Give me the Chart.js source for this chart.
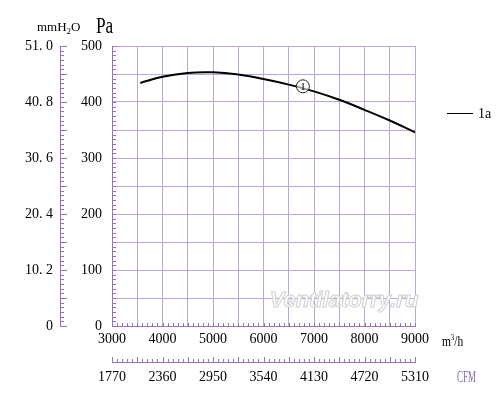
<!DOCTYPE html>
<html><head><meta charset="utf-8">
<script src="https://cdn.jsdelivr.net/npm/chart.js@4.4.1/dist/chart.umd.min.js"></script>
<style>html,body{margin:0;padding:0;background:#fff}canvas{display:block}</style>
</head><body>
<canvas id="c" width="500" height="400"></canvas>
<script>
// ---- data ----
const flowM3h    = [3560, 4000, 4500, 5000, 5500, 6000, 6500, 7000, 7500, 8000, 8500, 9000];
const pressurePa = [434,  445,  452,  453,  449,  441,  431,  419,  404,  386,  367,  346];
const mmTickValues = [0, 10.2, 20.4, 30.6, 40.8, 51.0];
const mmTickLabels = ['0', '10. 2', '20. 4', '30. 6', '40. 8', '51. 0'];
const cfmTickValues = [1770, 2360, 2950, 3540, 4130, 4720, 5310];
const curveLabel = '1a';
const markerFlow = 6780, markerPa = 428, markerText = '1';
const watermarkText = 'Ventilatorry.ru';

const GRID = '#bba6d4';
const AXIS = '#9273b6';
const SERIF = '"Liberation Serif", "DejaVu Serif", serif';

function line(ctx, x1, y1, x2, y2) { ctx.beginPath(); ctx.moveTo(x1, y1); ctx.lineTo(x2, y2); ctx.stroke(); }

const decor = {
  id: 'decor',
  beforeDatasetsDraw(chart) {
    const ctx = chart.ctx;
    ctx.save();
    ctx.font = 'italic bold 22px "Liberation Sans", Arial, sans-serif';
    ctx.textAlign = 'center'; ctx.textBaseline = 'alphabetic';
    ctx.lineWidth = 1; ctx.strokeStyle = '#cfcfcf'; ctx.fillStyle = '#ffffff';
    ctx.fillText(watermarkText, 344, 307);
    ctx.strokeText(watermarkText, 344, 307);
    ctx.restore();
  },
  afterDraw(chart) {
    const ctx = chart.ctx, ca = chart.chartArea;
    const ya = chart.scales.y, y2 = chart.scales.y2, xa = chart.scales.x, x2 = chart.scales.x2;
    ctx.save();
    ctx.strokeStyle = AXIS; ctx.lineWidth = 1;
    // Pa axis inward minor ticks
    for (let i = 0; i <= 60; i++) {
      const p = Math.round(ya.getPixelForValue(i * 500 / 60)) + 0.5;
      line(ctx, ca.left, p, ca.left + 4, p);
    }
    // mmH2O axis ticks
    for (let i = 0; i <= 60; i++) {
      const p = Math.round(y2.getPixelForValue(i * 0.85)) + 0.5;
      const len = (i % 6 === 0) ? 7 : 4;
      line(ctx, y2.right, p, y2.right + len, p);
    }
    // m3/h axis inward minor ticks
    for (let v = 3000; v <= 9000; v += 100) {
      const p = Math.round(xa.getPixelForValue(v)) + 0.5;
      line(ctx, p, ca.bottom, p, ca.bottom - 3);
    }
    // CFM axis ticks
    for (let i = 0; i <= 60; i++) {
      const p = Math.round(x2.getPixelForValue(1770 + i * 59)) + 0.5;
      const len = (i % 5 === 0) ? 5 : 3;
      line(ctx, p, x2.top, p, x2.top - len);
    }
    // header: mmH2O  Pa
    ctx.fillStyle = '#000'; ctx.textAlign = 'left'; ctx.textBaseline = 'alphabetic';
    ctx.font = '13px ' + SERIF;
    let x = 37;
    ctx.fillText('mmH', x, 31); x += ctx.measureText('mmH').width;
    ctx.font = '9px ' + SERIF;
    ctx.fillText('2', x, 34); x += ctx.measureText('2').width;
    ctx.font = '13px ' + SERIF;
    ctx.fillText('O', x, 31);
    ctx.save();
    ctx.translate(96, 33); ctx.scale(0.72, 1);
    ctx.font = '24px ' + SERIF; ctx.fillText('Pa', 0, 0);
    ctx.restore();
    // m3/h
    ctx.save();
    ctx.translate(442, 346); ctx.scale(0.82, 1);
    ctx.font = '14px ' + SERIF;
    let w = 0;
    ctx.fillText('m', 0, 0); w += ctx.measureText('m').width;
    ctx.font = '8px ' + SERIF; ctx.fillText('3', w, -6); w += ctx.measureText('3').width;
    ctx.font = '14px ' + SERIF; ctx.fillText('/h', w, 0);
    ctx.restore();
    // CFM
    ctx.save();
    ctx.translate(457, 382); ctx.scale(0.56, 1);
    ctx.fillStyle = '#8e68b2';
    ctx.font = '16px ' + SERIF; ctx.fillText('CFM', 0, 0);
    ctx.restore();
    // legend
    ctx.strokeStyle = '#000'; ctx.lineWidth = 1;
    line(ctx, 447, 113.5, 473, 113.5);
    ctx.font = '14px ' + SERIF; ctx.fillStyle = '#000';
    ctx.fillText(chart.data.datasets[0].label, 478, 118);
    // curve marker
    const mx = xa.getPixelForValue(markerFlow), my = ya.getPixelForValue(markerPa);
    ctx.beginPath(); ctx.arc(mx, my, 6.5, 0, Math.PI * 2);
    ctx.fillStyle = 'rgba(255,255,255,0.6)'; ctx.fill();
    ctx.strokeStyle = '#222'; ctx.lineWidth = 1; ctx.stroke();
    ctx.fillStyle = '#000'; ctx.font = '11px ' + SERIF;
    ctx.textAlign = 'center'; ctx.textBaseline = 'middle';
    ctx.fillText(markerText, mx, my + 0.5);
    ctx.restore();
  }
};

const tickFont = { family: SERIF, size: 14 };

new Chart(document.getElementById('c'), {
  type: 'line',
  data: {
    datasets: [{
      label: curveLabel,
      data: flowM3h.map((f, i) => ({ x: f, y: pressurePa[i] })),
      borderColor: '#000',
      borderWidth: 2,
      pointRadius: 0,
      tension: 0.4,
      fill: false
    }]
  },
  options: {
    responsive: false,
    animation: false,
    devicePixelRatio: 1,
    layout: { padding: { left: 0, top: 46, right: 85, bottom: 8 } },
    plugins: { legend: { display: false }, tooltip: { enabled: false } },
    scales: {
      x: {
        type: 'linear', position: 'bottom', weight: 0, min: 3000, max: 9000,
        ticks: { stepSize: 500, autoSkip: false, maxRotation: 0, color: '#000', font: tickFont, padding: 5,
          callback: v => (v % 1000 === 0 ? String(v) : '') },
        grid: { color: GRID, drawTicks: false },
        border: { color: AXIS },
        afterFit: s => { s.height = 36; }
      },
      x2: {
        type: 'linear', position: 'bottom', weight: 1, min: 1770, max: 5310,
        afterBuildTicks: s => { s.ticks = cfmTickValues.map(v => ({ value: v })); },
        ticks: { autoSkip: false, maxRotation: 0, color: '#000', font: tickFont, padding: 7,
          callback: v => String(v) },
        grid: { drawOnChartArea: false, drawTicks: false },
        border: { color: AXIS },
        afterFit: s => { s.height = 30; }
      },
      y: {
        type: 'linear', position: 'left', weight: 0, min: 0, max: 500,
        ticks: { stepSize: 50, autoSkip: false, color: '#000', font: tickFont, padding: 10,
          callback: v => (v % 100 === 0 ? String(v) : '') },
        grid: { color: GRID, drawTicks: false },
        border: { color: AXIS },
        afterFit: s => { s.width = 52; }
      },
      y2: {
        type: 'linear', position: 'left', weight: 1, min: 0, max: 51,
        afterBuildTicks: s => { s.ticks = mmTickValues.map(v => ({ value: v })); },
        ticks: { autoSkip: false, color: '#000', font: tickFont, padding: 7,
          callback: (v, i) => mmTickLabels[i] },
        grid: { drawOnChartArea: false, drawTicks: false },
        border: { color: AXIS },
        afterFit: s => { s.width = 60; }
      }
    }
  },
  plugins: [decor]
});
</script>
</body></html>
